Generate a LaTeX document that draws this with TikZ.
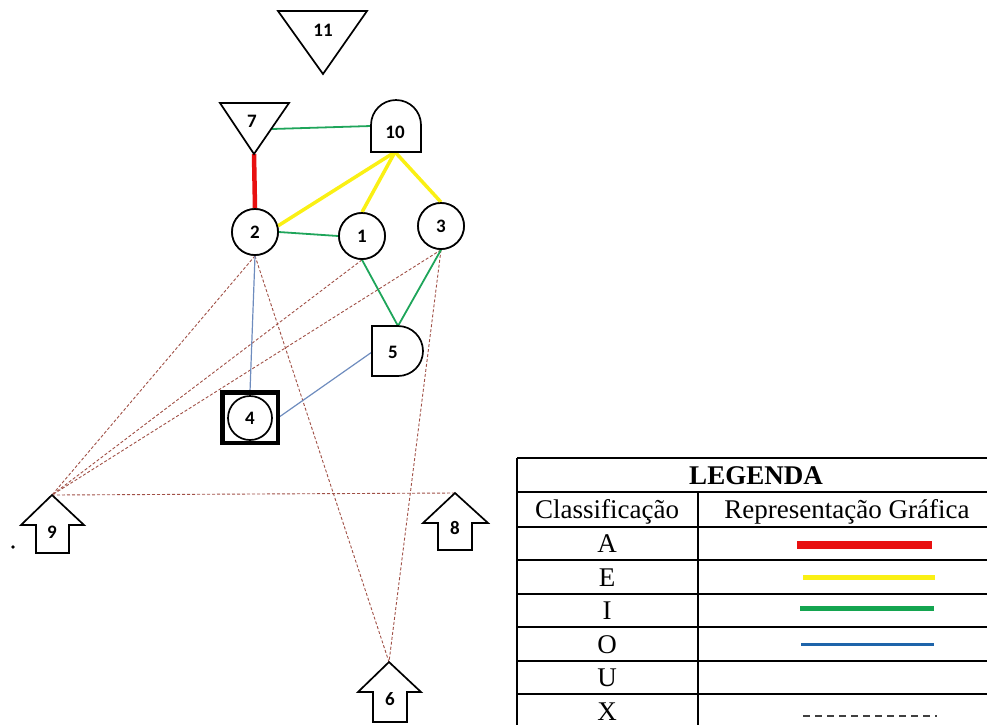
\documentclass[tikz,border=0pt]{standalone}
\usepackage{fontspec}
\setmainfont{Liberation Serif}
\newfontfamily\lblfont{Carlito}
\definecolor{relred}{RGB}{232,16,16}
\definecolor{relyel}{RGB}{250,240,20}
\definecolor{relgrn}{RGB}{30,165,90}
\definecolor{relblu}{RGB}{110,140,190}
\definecolor{legblu}{RGB}{30,100,170}
\definecolor{relx}{RGB}{160,80,70}
\begin{document}
\begin{tikzpicture}[x=1pt,y=-1pt,
  shp/.style={draw=black,line width=1.7pt,fill=white,line join=miter},
  circ/.style={circle,draw=black,line width=1.7pt,fill=white,minimum size=46pt,inner sep=0pt,font=\lblfont\bfseries\fontsize{19}{19}\selectfont},
  lbl/.style={inner sep=0pt,font=\lblfont\bfseries\fontsize{19}{19}\selectfont},
  relA/.style={draw=relred,line width=4.5pt},
  relE/.style={draw=relyel,line width=3.5pt},
  relI/.style={draw=relgrn,line width=1.8pt},
  relO/.style={draw=relblu,line width=1.2pt},
  relX/.style={draw=relx,line width=0.9pt,dash pattern=on 3pt off 2pt},
  tline/.style={draw=black,line width=1.4pt},
  ttext/.style={anchor=base,inner sep=0pt,font=\fontsize{27}{27}\selectfont}
]
\useasboundingbox (0,0) rectangle (987,724);

% anchor coordinates of the drawn shapes
\coordinate (t7top) at (220,103);
\coordinate (n7r) at (272,129);
\coordinate (n7b) at (254,154);
\coordinate (n10l) at (371,126);
\coordinate (n10b) at (395,152);
\coordinate (n5t) at (398,326);
\coordinate (n5l) at (372,352);
\coordinate (n9) at (52,495);
\coordinate (n8) at (455,493);
\coordinate (n6) at (389,662);

% circle nodes
\node[circ] (n2) at (255,232) {2};
\node[circ] (n1) at (362,236) {1};
\node[circ] (n3) at (441,226) {3};
\node[draw=black,line width=3pt,minimum width=54pt,minimum height=49pt,inner sep=0pt] (n4box) at (250,417.5) {};

% connectors (behind shapes)
\draw[relX] (n2.south) -- (n9);
\draw[relX] (n1.south) -- (n9);
\draw[relX] (n3.south) -- (n9);
\draw[relX] (n9) -- (n8);
\draw[relX] (n2.south) -- (n6);
\draw[relX] (n3.south) -- (n6);
\draw[relO] (n2.south) -- (n4box.north);
\draw[relO] (n5l) -- (n4box.east);
\draw[relI] (n1.south) -- (n5t);
\draw[relI] (n3.south) -- (n5t);
\draw[relI] (n2.east) -- (n1.west);
\draw[relI] (n7r) -- (n10l);
\draw[relA] (n7b) -- (n2.north);
\draw[relE] (n10b) -- (n2.15);
\draw[relE] (n10b) -- (n1.north);
\draw[relE] (n10b) -- (n3.north);

% redraw circles on top
\node[circ] at (n2) {2};
\node[circ] at (n1) {1};
\node[circ] at (n3) {3};

% node 11 and 7 (inverted triangles)
\draw[shp] (278,11) -- (367,11) -- (323,74) -- cycle;
\node[lbl] (n11) at (323,30) {11};
\draw[shp] (t7top) -- (289,103) -- (n7b) -- cycle;
\node[lbl] (n7) at (252,121) {7};

% node 10 (dome)
\draw[shp] (371,152) -- (371,125) arc[start angle=180,end angle=360,radius=25] -- (421,152) -- cycle;
\node[lbl] (n10) at (395,132) {10};

% node 5 (D shape)
\draw[shp] (372,326) -- (398,326) arc[start angle=270,end angle=450,radius=25] -- (372,376) -- cycle;
\node[lbl] (n5) at (393,352) {5};

% node 4
\node[circ,minimum size=44pt] (n4) at (250,418) {4};
\draw[draw=black,line width=3pt] (n4box.south west) rectangle (n4box.north east);

% arrows 9, 8, 6
\draw[shp] (n9) -- (84,525) -- (69,525) -- (69,553) -- (36,553) -- (36,525) -- (21,525) -- cycle;
\node[lbl] (l9) at (52,532) {9};
\draw[shp] (n8) -- (488,523) -- (472,523) -- (472,550) -- (438,550) -- (438,523) -- (423,523) -- cycle;
\node[lbl] (l8) at (455,528) {8};
\draw[shp] (n6) -- (421,692) -- (407,692) -- (407,722) -- (373,722) -- (373,692) -- (358,692) -- cycle;
\node[lbl] (l6) at (390,699) {6};

% stray dot
\fill (13,547) circle (1.8);

% legend table
\draw[tline] (517,458) -- (996,458);
\foreach \yy in {492,527,560,594,627,661,694,728} \draw[tline] (517,\yy) -- (996,\yy);
\draw[tline] (517,458) -- (517,728);
\draw[tline] (996,458) -- (996,728);
\draw[tline] (698,492) -- (698,728);
\node[ttext,font=\bfseries\fontsize{27}{27}\selectfont] (lg) at (756,484) {LEGENDA};
\node[ttext] (hc) at (607,518) {Classificação};
\node[ttext] (hr) at (847,518) {Representação Gráfica};
\node[ttext] (ca) at (607,552) {A};
\node[ttext] (ce) at (607,586) {E};
\node[ttext] (ci) at (607,619) {I};
\node[ttext] (co) at (607,653) {O};
\node[ttext] (cu) at (607,686) {U};
\node[ttext] (cx) at (607,720) {X};
\draw[draw=relred,line width=8pt] (797,545) -- (932,545);
\draw[draw=relyel,line width=5pt] (803,577) -- (935,577);
\draw[draw={rgb,255:red,20;green,165;blue,80},line width=5pt] (800,608) -- (934,608);
\draw[draw=legblu,line width=3pt] (801,644) -- (934,644);
\draw[draw=black!75,line width=1.5pt,dash pattern=on 7pt off 5pt] (803,716) -- (937,716);
\end{tikzpicture}
\end{document}
